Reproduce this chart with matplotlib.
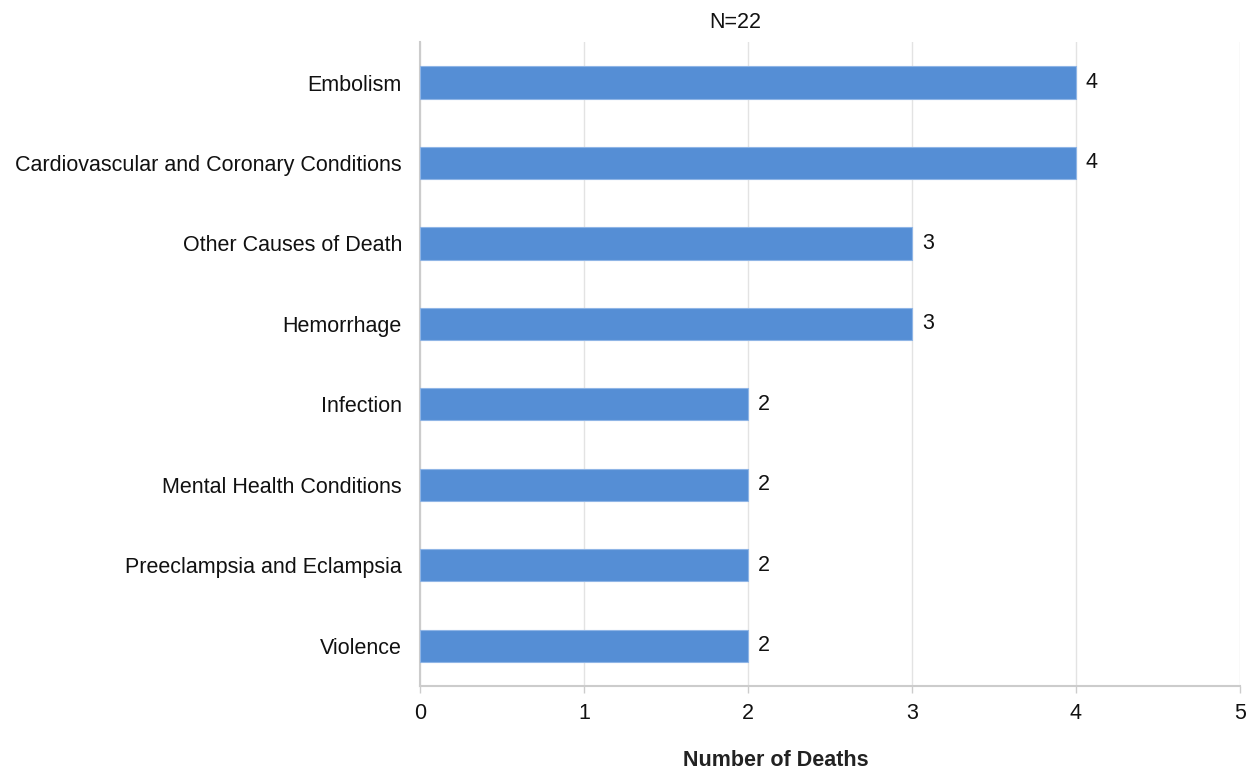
import numpy as np
import matplotlib
matplotlib.use("Agg")
import matplotlib.pyplot as plt

plt.rcParams['font.family'] = ['Liberation Sans', 'DejaVu Sans']

# causes of death, top to bottom
causes = ['Embolism',
          'Cardiovascular and Coronary Conditions',
          'Other Causes of Death',
          'Hemorrhage',
          'Infection',
          'Mental Health Conditions',
          'Preeclampsia and Eclampsia',
          'Violence']
deaths = [4, 4, 3, 3, 2, 2, 2, 2]

fs = 15.5

fig = plt.figure(figsize=(12.53, 7.69), dpi=100)
ax = fig.add_axes([0.3352, 0.108, 0.6544, 0.837])

ypos = np.arange(len(causes))
bars = ax.barh(ypos, deaths, height=0.4, color='#558ed5',
               edgecolor='#8fb5e6', linewidth=0.8, zorder=3)

for y, v in zip(ypos, deaths):
    ax.text(v + 0.06, y, str(v), va='center', ha='left', fontsize=fs, color='#111111')

ax.set_yticks(ypos)
ax.set_yticklabels(causes, fontsize=fs, color='#111111')
ax.set_ylim(len(causes) - 0.5, -0.5)
ax.set_xlim(0, 5)
ax.set_xticks(range(6))
ax.tick_params(axis='x', labelsize=fs, colors='#111111', length=5, width=1,
               color='#cccccc', pad=7)
ax.tick_params(axis='y', length=0, pad=13)

ax.grid(axis='x', color='#e3e3e3', linewidth=1, zorder=0)
for side in ['top', 'right']:
    ax.spines[side].set_visible(False)
for side in ['left', 'bottom']:
    ax.spines[side].set_color('#cccccc')
    ax.spines[side].set_linewidth(1.5)

fig.text(735 / 1253, 1 - 22 / 769, 'N=22', fontsize=fs, color='#111111',
         ha='center', va='center')
fig.text(776 / 1253, 1 - 760 / 769, 'Number of Deaths', fontsize=fs,
         fontweight='bold', color='#222222', ha='center', va='center')

fig.savefig('out.png', dpi=100, facecolor='white')
